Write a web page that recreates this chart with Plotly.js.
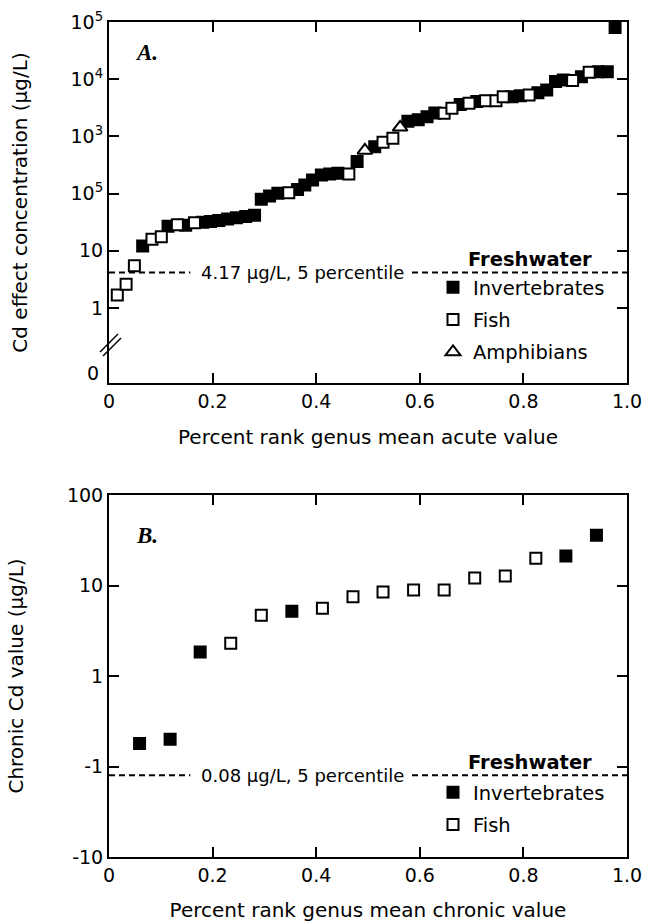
<!DOCTYPE html>
<html>
<head>
<meta charset="utf-8">
<script src="https://cdn.plot.ly/plotly-3.0.1.min.js"></script>
<style>html,body{margin:0;padding:0;background:#fff;}</style>
</head>
<body>
<div id="chart" style="width:646px;height:922px;"></div>
<script>
// ---------- Panel A: acute values ----------
const acuteInvX = [0.065,0.114,0.148,0.181,0.196,0.212,0.229,0.246,0.264,0.281,0.294,0.310,0.326,0.364,0.378,0.393,0.410,0.426,0.442,0.479,0.513,0.577,0.597,0.614,0.629,0.678,0.710,0.778,0.794,0.828,0.845,0.862,0.877,0.912,0.945,0.962,0.977];
const acuteInvY = [12.1,27,28,31.5,32.5,34,36,38,40,42,80,91,102,118,141,173,212,220,226,363,660,1850,1950,2200,2570,3600,4060,4950,5150,5800,6500,9100,9700,11000,13500,13500,80000];
const acuteFishX = [0.016,0.033,0.049,0.083,0.101,0.132,0.165,0.347,0.463,0.529,0.548,0.647,0.662,0.695,0.727,0.747,0.761,0.811,0.895,0.927];
const acuteFishY = [1.69,2.6,5.5,15.9,17.7,28.6,31,104,220,790,930,2530,3100,3800,4200,4200,4950,5300,9500,13300];
const acuteAmphX = [0.494,0.562];
const acuteAmphY = [570,1440];

// ---------- Panel B: chronic values ----------
const chronicInvX = [0.059,0.118,0.176,0.353,0.882,0.941];
const chronicInvY = [0.18,0.20,1.84,5.2,21.2,36];
const chronicFishX = [0.235,0.294,0.412,0.471,0.529,0.588,0.647,0.706,0.765,0.824];
const chronicFishY = [2.3,4.7,5.6,7.5,8.5,8.9,8.9,12.1,12.7,20];

// ---------- Ticks / labels ----------
const xTickVals = [0,0.2,0.4,0.6,0.8,1.0];
const xTickText = ["0","0.2","0.4","0.6","0.8","1.0"];
const yATickVals = [1,10,100,1000,10000,100000];
const yATickText = ["1","10","10<sup>5</sup>","10<sup>3</sup>","10<sup>4</sup>","10<sup>5</sup>"];
const yBTickVals = [0.01,0.1,1,10,100];
const yBTickText = ["-10","-1","1","10","100"];
const acuteHC5 = 4.17;
const chronicHC5 = 0.08;
const seriesNames = ["Invertebrates","Fish","Amphibians"];

const FONT = "DejaVu Sans, Liberation Sans, Arial, sans-serif";
const BLACK = "#000";

function fillMarker(){ return {symbol:"square", size:11, color:BLACK, line:{color:BLACK,width:2}}; }
function openMarker(){ return {symbol:"square", size:11, color:"#fff", line:{color:BLACK,width:2}}; }
function triMarker(){ return {symbol:"triangle-up", size:13, color:"#fff", line:{color:BLACK,width:2}}; }

const data = [
  {x:acuteInvX, y:acuteInvY, xaxis:"x", yaxis:"y", type:"scatter", mode:"markers", name:seriesNames[0], marker:fillMarker(), legend:"legend", legendgroup:"a1", cliponaxis:false},
  {x:acuteFishX, y:acuteFishY, xaxis:"x", yaxis:"y", type:"scatter", mode:"markers", name:seriesNames[1], marker:openMarker(), legend:"legend", legendgroup:"a2", cliponaxis:false},
  {x:acuteAmphX, y:acuteAmphY, xaxis:"x", yaxis:"y", type:"scatter", mode:"markers", name:seriesNames[2], marker:triMarker(), legend:"legend", legendgroup:"a3", cliponaxis:false},
  {x:chronicInvX, y:chronicInvY, xaxis:"x2", yaxis:"y2", type:"scatter", mode:"markers", name:seriesNames[0], marker:fillMarker(), legend:"legend2", legendgroup:"b1", cliponaxis:false},
  {x:chronicFishX, y:chronicFishY, xaxis:"x2", yaxis:"y2", type:"scatter", mode:"markers", name:seriesNames[1], marker:openMarker(), legend:"legend2", legendgroup:"b2", cliponaxis:false}
];

function xAxis(anchor, title){
  return {
    anchor:anchor, domain:[0,1], range:[0,1],
    tickmode:"array", tickvals:xTickVals, ticktext:xTickText,
    ticks:"inside", ticklen:10, tickwidth:2, tickcolor:BLACK,
    showline:true, linewidth:2, linecolor:BLACK, mirror:"ticks",
    showgrid:false, zeroline:false,
    tickfont:{family:FONT, size:19, color:BLACK},
    title:{text:title, font:{family:FONT, size:20, color:BLACK}, standoff:19}
  };
}
function yAxis(anchor, domain, range, tv, tt, title){
  return {
    anchor:anchor, domain:domain, type:"log", range:range,
    tickmode:"array", tickvals:tv, ticktext:tt,
    ticks:"inside", ticklen:10, tickwidth:2, tickcolor:BLACK,
    showline:true, linewidth:2, linecolor:BLACK, mirror:"ticks",
    showgrid:false, zeroline:false,
    tickfont:{family:FONT, size:19, color:BLACK},
    title:{text:title, font:{family:FONT, size:20, color:BLACK}, standoff:38}
  };
}

const PH = 835; // plot height in px (922-22-65)
const PW = 518;
function py(pix){ return (857 - pix)/PH; }
function px(pix){ return (pix - 109)/PW; }

const layout = {
  width:646, height:922,
  margin:{l:109, r:19, t:22, b:65},
  paper_bgcolor:"#fff", plot_bgcolor:"#fff",
  showlegend:true,
  font:{family:FONT, color:BLACK},
  xaxis: xAxis("y", "Percent rank genus mean acute value"),
  yaxis: yAxis("x", [py(383), 1], [-1.31, 5], yATickVals, yATickText, "Cd effect concentration (µg/L)"),
  xaxis2: xAxis("y2", "Percent rank genus mean chronic value"),
  yaxis2: yAxis("x2", [0, py(495)], [-2, 2], yBTickVals, yBTickText, "Chronic Cd value (µg/L)"),
  legend:{x:px(433), y:py(268), xanchor:"left", yanchor:"top", bgcolor:"rgba(0,0,0,0)", borderwidth:0,
          font:{family:FONT, size:19.5, color:BLACK}, tracegroupgap:4},
  legend2:{x:px(433), y:py(773), xanchor:"left", yanchor:"top", bgcolor:"rgba(0,0,0,0)", borderwidth:0,
          font:{family:FONT, size:19.5, color:BLACK}, tracegroupgap:4},
  shapes:[
    {type:"line", xref:"x", yref:"y", x0:0, x1:0.157, y0:acuteHC5, y1:acuteHC5, line:{color:BLACK, width:2, dash:"6px,4px"}},
    {type:"line", xref:"x", yref:"y", x0:0.585, x1:1, y0:acuteHC5, y1:acuteHC5, line:{color:BLACK, width:2, dash:"6px,4px"}},
    {type:"line", xref:"x2", yref:"y2", x0:0, x1:0.157, y0:chronicHC5, y1:chronicHC5, line:{color:BLACK, width:2, dash:"6px,4px"}},
    {type:"line", xref:"x2", yref:"y2", x0:0.585, x1:1, y0:chronicHC5, y1:chronicHC5, line:{color:BLACK, width:2, dash:"6px,4px"}},
    // axis break marks
    {type:"line", xref:"paper", yref:"paper", x0:px(100), y0:py(352), x1:px(118), y1:py(334), line:{color:BLACK, width:1.5}},
    {type:"line", xref:"paper", yref:"paper", x0:px(103), y0:py(356), x1:px(121), y1:py(338), line:{color:BLACK, width:1.5}}
  ],
  annotations:[
    {xref:"x", yref:"y", x:0.173, y:Math.log10(acuteHC5), xanchor:"left", yanchor:"middle", showarrow:false,
     text:"4.17 µg/L, 5 percentile", font:{family:FONT, size:18, color:BLACK}},
    {xref:"x2", yref:"y2", x:0.173, y:Math.log10(chronicHC5), xanchor:"left", yanchor:"middle", showarrow:false,
     text:"0.08 µg/L, 5 percentile", font:{family:FONT, size:18, color:BLACK}},
    {xref:"paper", yref:"paper", x:px(530), y:py(259), xanchor:"center", yanchor:"middle", showarrow:false,
     text:"<b>Freshwater</b>", font:{family:FONT, size:19.5, color:BLACK}},
    {xref:"paper", yref:"paper", x:px(530), y:py(762), xanchor:"center", yanchor:"middle", showarrow:false,
     text:"<b>Freshwater</b>", font:{family:FONT, size:19.5, color:BLACK}},
    {xref:"paper", yref:"paper", x:px(133), y:py(53), xanchor:"left", yanchor:"middle", showarrow:false,
     text:"<b><i>A.</i></b>", font:{family:"Liberation Serif, Times New Roman, serif", size:23, color:BLACK}},
    {xref:"paper", yref:"paper", x:px(134), y:py(535), xanchor:"left", yanchor:"middle", showarrow:false,
     text:"<b><i>B.</i></b>", font:{family:"Liberation Serif, Times New Roman, serif", size:23, color:BLACK}},
    {xref:"paper", yref:"paper", x:px(101), y:py(373), xanchor:"right", yanchor:"middle", showarrow:false,
     text:"0", font:{family:FONT, size:19, color:BLACK}}
  ]
};

Plotly.newPlot("chart", data, layout, {staticPlot:true, displayModeBar:false});
</script>
</body>
</html>
